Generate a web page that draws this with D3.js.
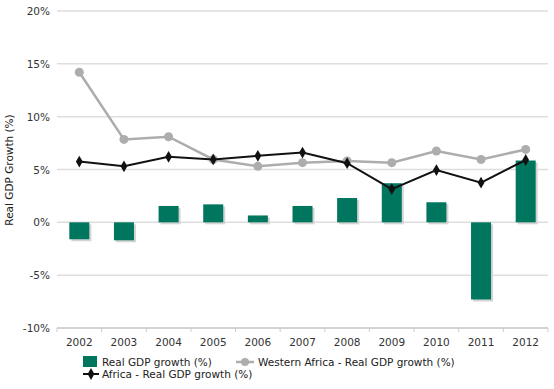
<!DOCTYPE html>
<html>
<head>
<meta charset="utf-8">
<script src="https://cdn.jsdelivr.net/npm/d3@7"></script>
<style>
body{margin:0;background:#fff}
svg{font-family:"DejaVu Sans",Verdana,sans-serif}
</style>
</head>
<body>
<div id="chart"></div>
<script>
var years=['2002','2003','2004','2005','2006','2007','2008','2009','2010','2011','2012']
var country=[-1.6,-1.7,1.55,1.7,0.65,1.55,2.3,3.7,1.9,-7.3,5.85]
var westAfrica=[14.2,7.85,8.1,5.95,5.3,5.65,5.8,5.65,6.75,5.95,6.9]
var africa=[5.75,5.3,6.2,5.95,6.3,6.6,5.6,3.15,4.95,3.75,5.9]
var yTicks=[-10,-5,0,5,10,15,20]

var W=554,H=389
var margin={top:11,right:6,bottom:61,left:57}

var svg=d3.select('#chart').append('svg')
    .attr('width',W).attr('height',H)

var x=d3.scaleBand().domain(years).range([margin.left,548]).paddingInner(0).paddingOuter(0)
var y=d3.scaleLinear().domain([-10,20]).range([328,11])

// grid
svg.append('g').selectAll('line').data(yTicks).enter().append('line')
    .attr('x1',margin.left).attr('x2',548)
    .attr('y1',function(d){return y(d)}).attr('y2',function(d){return y(d)})
    .attr('stroke','#dedede').attr('stroke-width',1.5)

// y labels
svg.append('g').selectAll('text').data(yTicks).enter().append('text')
    .attr('x',50).attr('y',function(d){return y(d)+4})
    .attr('text-anchor','end').attr('font-size',10.5).attr('fill','#333')
    .text(function(d){return d+'%'})

svg.append('text')
    .attr('transform','translate(13,170) rotate(-90)')
    .attr('text-anchor','middle').attr('font-size',10.5).attr('fill','#222')
    .text('Real GDP Growth (%)')

// x axis
var xa=svg.append('g').attr('transform','translate(0,'+y(-10)+')')
xa.append('line').attr('x1',margin.left).attr('x2',548).attr('stroke','#ccc').attr('stroke-width',1.5)
xa.selectAll('line.tk').data(d3.range(years.length+1)).enter().append('line')
    .attr('class','tk')
    .attr('x1',function(i){return margin.left+i*x.step()}).attr('x2',function(i){return margin.left+i*x.step()})
    .attr('y1',0).attr('y2',4).attr('stroke','#ccc')
xa.selectAll('text').data(years).enter().append('text')
    .attr('x',function(d){return x(d)+x.bandwidth()/2}).attr('y',18)
    .attr('text-anchor','middle').attr('font-size',10.5).attr('fill','#333')
    .text(function(d){return d})

// bars
var bw=20
var bars=svg.append('g')
bars.selectAll('rect.sh').data(country).enter().append('rect')
    .attr('x',function(d,i){return x(years[i])+x.bandwidth()/2-bw/2+2})
    .attr('y',function(d){return Math.min(y(d),y(0))+2})
    .attr('width',bw).attr('height',function(d){return Math.abs(y(d)-y(0))})
    .attr('fill','#d4d4d4')
bars.selectAll('rect.b').data(country).enter().append('rect')
    .attr('x',function(d,i){return x(years[i])+x.bandwidth()/2-bw/2})
    .attr('y',function(d){return Math.min(y(d),y(0))})
    .attr('width',bw).attr('height',function(d){return Math.abs(y(d)-y(0))})
    .attr('fill','#00765e')

var cx=function(d,i){return x(years[i])+x.bandwidth()/2}
var line=d3.line().x(cx).y(function(d){return y(d)})

// western africa
svg.append('path').datum(westAfrica).attr('d',line)
    .attr('fill','none').attr('stroke','#adadae').attr('stroke-width',2.5)
svg.append('g').selectAll('circle').data(westAfrica).enter().append('circle')
    .attr('cx',cx).attr('cy',function(d){return y(d)}).attr('r',4.5).attr('fill','#adadae')

// africa
svg.append('path').datum(africa).attr('d',line)
    .attr('fill','none').attr('stroke','#111').attr('stroke-width',2)
var diamond=d3.symbol().type(d3.symbolDiamond).size(40)
svg.append('g').selectAll('path').data(africa).enter().append('path')
    .attr('d',diamond)
    .attr('transform',function(d,i){return 'translate('+cx(d,i)+','+y(d)+')'})
    .attr('fill','#111')

// legend
var lg=svg.append('g')
lg.append('rect').attr('x',83).attr('y',356).attr('width',14).attr('height',11).attr('fill','#00765e')
lg.append('text').attr('x',102).attr('y',366).attr('font-size',10.5).attr('fill','#222').text('Real GDP growth (%)')
lg.append('line').attr('x1',236).attr('x2',254).attr('y1',362).attr('y2',362).attr('stroke','#adadae').attr('stroke-width',2.5)
lg.append('circle').attr('cx',245).attr('cy',362).attr('r',4).attr('fill','#adadae')
lg.append('text').attr('x',258).attr('y',366).attr('font-size',10.5).attr('fill','#222').text('Western Africa - Real GDP growth (%)')
lg.append('line').attr('x1',83).attr('x2',99).attr('y1',374).attr('y2',374).attr('stroke','#111').attr('stroke-width',2)
lg.append('path').attr('d',diamond).attr('transform','translate(91,374)').attr('fill','#111')
lg.append('text').attr('x',102).attr('y',378).attr('font-size',10.5).attr('fill','#222').text('Africa - Real GDP growth (%)')
</script>
</body>
</html>
